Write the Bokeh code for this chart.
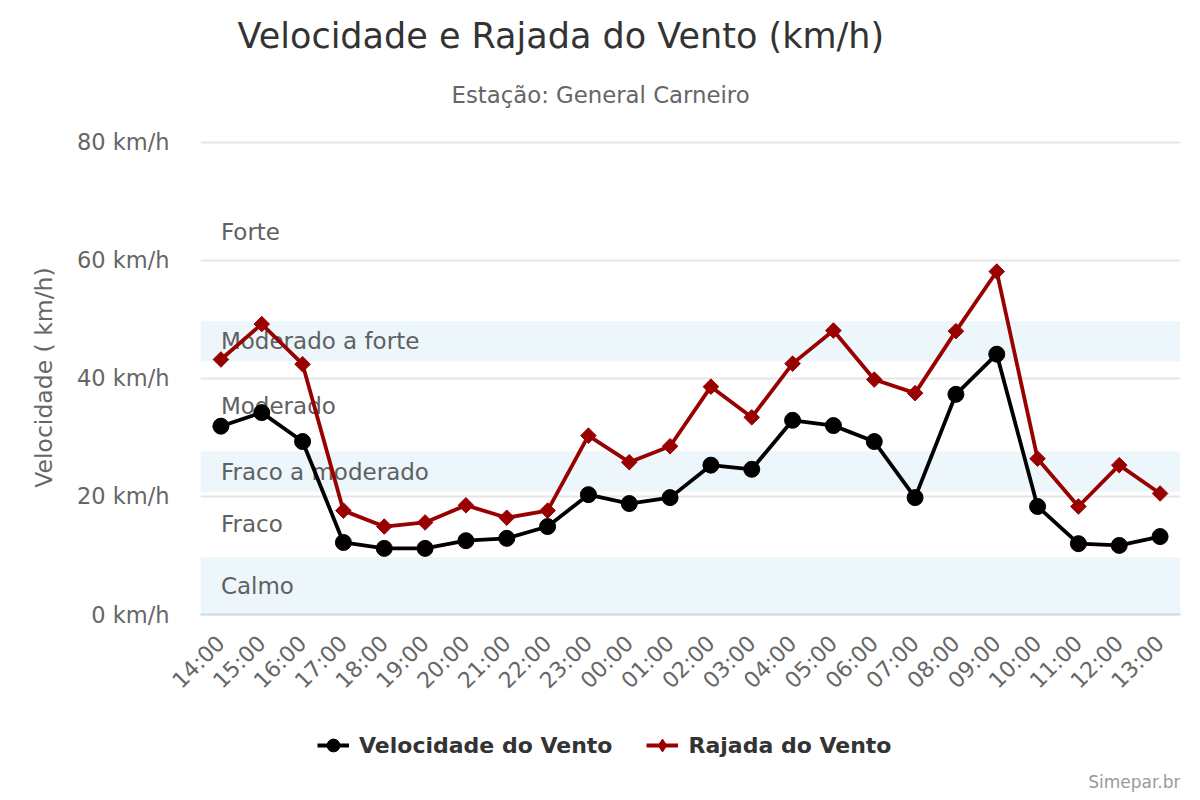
import math
from bokeh.plotting import figure
from bokeh.layouts import column
from bokeh.models import (BoxAnnotation, Legend, LegendItem, Title, Label, FactorRange,
                          Range1d, FixedTicker, CustomJSTickFormatter)
from bokeh.core.properties import value
from bokeh.embed import file_html
from bokeh.resources import INLINE

hours = ["14:00", "15:00", "16:00", "17:00", "18:00", "19:00", "20:00", "21:00",
         "22:00", "23:00", "00:00", "01:00", "02:00", "03:00", "04:00", "05:00",
         "06:00", "07:00", "08:00", "09:00", "10:00", "11:00", "12:00", "13:00"]
velocidade = [31.9, 34.2, 29.3, 12.2, 11.2, 11.2, 12.5, 12.9, 14.9, 20.3, 18.8, 19.8,
              25.3, 24.6, 32.9, 32.0, 29.3, 19.8, 37.3, 44.1, 18.3, 12.0, 11.7, 13.2]
rajada = [43.2, 49.2, 42.4, 17.6, 14.9, 15.6, 18.5, 16.4, 17.6, 30.3, 25.8, 28.5,
          38.6, 33.4, 42.5, 48.1, 39.8, 37.5, 48.0, 58.1, 26.4, 18.3, 25.3, 20.5]

band_names = ["Calmo", "Fraco", "Fraco a moderado", "Moderado", "Moderado a forte", "Forte"]
band_from = [0, 9.7, 20.8, 27.6, 42.9, 49.7]
band_to = [9.7, 20.8, 27.6, 42.9, 49.7, 80]
band_colored = [True, False, True, False, True, False]
y_ticks = [0, 20, 40, 60, 80]

FONT = "DejaVu Sans"
VEL_COLOR = "black"
RAJ_COLOR = "#990000"

p = figure(frame_width=980, frame_height=474,
           x_range=FactorRange(*hours, range_padding=0),
           y_range=Range1d(0, 80.3), output_backend="svg", toolbar_location=None,
           min_border_left=200, min_border_right=16, min_border_top=140,
           min_border_bottom=110)
p.outline_line_color = None
p.background_fill_color = "white"

# bands
for b0, b1, col in zip(band_from, band_to, band_colored):
    if col:
        p.add_layout(BoxAnnotation(bottom=b0, top=b1, fill_color="#44aad5",
                                   fill_alpha=0.1, line_color=None, level="underlay"))

# grid
p.xgrid.grid_line_color = None
p.ygrid.grid_line_color = "#e6e6e6"
p.ygrid.grid_line_width = 2
p.ygrid.ticker = FixedTicker(ticks=y_ticks)

# band labels
mids = [(a + b) / 2 for a, b in zip(band_from, band_to)]
p.text(x=[hours[0]] * len(band_names), y=mids, text=band_names,
       text_font=value(FONT), text_font_size="23px", text_color="#606060",
       text_align="left", text_baseline="middle")

# series
p.line(hours, velocidade, line_color=VEL_COLOR, line_width=3.8)
p.scatter(hours, velocidade, marker="circle", size=16, fill_color=VEL_COLOR,
          line_color=VEL_COLOR)
p.line(hours, rajada, line_color=RAJ_COLOR, line_width=3.8)
p.scatter(hours, rajada, marker="square", size=11, angle=math.pi / 4,
          fill_color=RAJ_COLOR, line_color=RAJ_COLOR)

# axes
yax = p.yaxis[0]
yax.ticker = FixedTicker(ticks=y_ticks)
yax.formatter = CustomJSTickFormatter(code="return tick + ' km/h'")
yax.axis_line_color = None
yax.major_tick_line_color = None
yax.minor_tick_line_color = None
yax.major_label_text_font = FONT
yax.major_label_text_font_size = "22.5px"
yax.major_label_text_color = "#666666"
yax.major_label_standoff = 25
yax.axis_label = "Velocidade ( km/h)"
yax.axis_label_text_font = FONT
yax.axis_label_text_font_size = "23.5px"
yax.axis_label_text_font_style = "normal"
yax.axis_label_text_color = "#666666"
yax.axis_label_standoff = 16

xax = p.xaxis[0]
xax.axis_line_color = "#ccd6eb"
xax.axis_line_width = 2
xax.major_tick_line_color = None
xax.minor_tick_line_color = None
xax.major_label_orientation = math.pi / 4
xax.major_label_text_font = FONT
xax.major_label_text_font_size = "22px"
xax.major_label_text_color = "#666666"
xax.major_label_standoff = 19

# titles
sub = Title(text="Estação: General Carneiro", align="left", offset=251, standoff=65,
            text_font=FONT, text_font_size="22.8px", text_font_style="normal",
            text_color="#666666")
p.add_layout(sub, "above")
main = Title(text="Velocidade e Rajada do Vento (km/h)", align="left", offset=37,
             standoff=-17, text_font=FONT, text_font_size="35px",
             text_font_style="normal", text_color="#333333")
p.add_layout(main, "above")

# legend + credit strip (series drawn off-view; they only feed the legend)
LH = 72
q = figure(width=1196, height=LH, x_range=Range1d(0, 23), y_range=Range1d(1000, 1100),
           output_backend="svg", toolbar_location=None, min_border=0,
           x_axis_type=None, y_axis_type=None)
q.outline_line_color = None
q.grid.visible = False
idx = list(range(len(hours)))
lv = q.line(idx, velocidade, line_color=VEL_COLOR, line_width=3.8)
sv = q.scatter(idx, velocidade, marker="circle", size=13, fill_color=VEL_COLOR,
               line_color=VEL_COLOR)
lr = q.line(idx, rajada, line_color=RAJ_COLOR, line_width=3.8)
sr = q.scatter(idx, rajada, marker="diamond", size=16,
               fill_color=RAJ_COLOR, line_color=RAJ_COLOR)
legend = Legend(items=[LegendItem(label="Velocidade do Vento", renderers=[lv, sv]),
                       LegendItem(label="Rajada do Vento", renderers=[lr, sr])],
                orientation="horizontal", location=(117, 35),
                label_text_font=FONT, label_text_font_size="22px",
                label_text_font_style="bold", label_text_color="#333333",
                border_line_color=None, background_fill_alpha=0,
                glyph_width=32, glyph_height=32, spacing=34, padding=10,
                label_standoff=10, margin=0)
q.add_layout(legend, "center")
q.add_layout(Label(x=980, y=15, x_units="screen", y_units="screen",
                   text="Simepar.br", text_font=FONT, text_font_size="17px",
                   text_color="#999999", text_align="right", text_baseline="middle"))

layout = column(p, q, spacing=0)
open("out.html", "w").write(file_html(layout, INLINE))
